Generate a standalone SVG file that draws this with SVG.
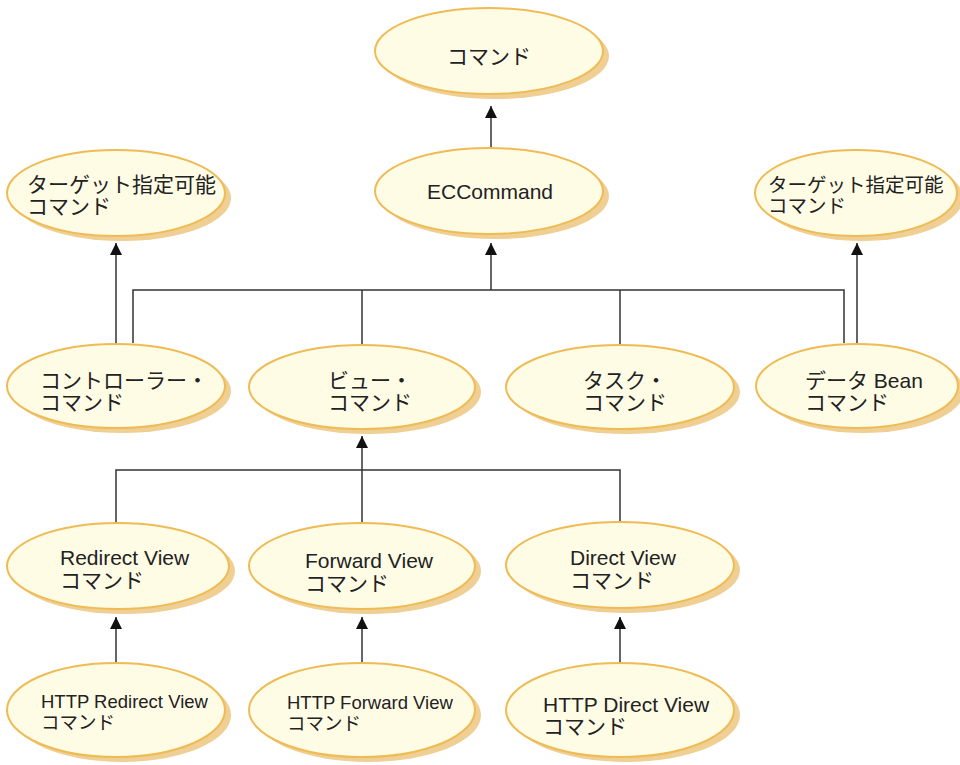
<svg xmlns="http://www.w3.org/2000/svg" width="960" height="765" viewBox="0 0 960 765">
<defs>
<style>
.sh{fill:#efcf94;stroke:none}
.el{fill:#fffce6;stroke:#eebb55;stroke-width:2}
.t{font-family:"Liberation Sans","Noto Sans CJK JP",sans-serif;font-size:21px;fill:#222}
.s{font-size:18.5px}
.c{fill:none;stroke:#333;stroke-width:1.5}
</style>
<marker id="ah" viewBox="0 0 12 12" refX="12" refY="6" markerWidth="12" markerHeight="12" markerUnits="userSpaceOnUse" orient="auto"><path d="M0,0 L12,6 L0,12 z" fill="#111"/></marker>
</defs>
<rect width="960" height="765" fill="#fff"/>
<g id="connectors">
<line class="c" x1="491" y1="148" x2="491" y2="106" marker-end="url(#ah)"/>
<polyline class="c" points="133,343 133,290 844,290 844,343"/>
<line class="c" x1="491" y1="290" x2="491" y2="243" marker-end="url(#ah)"/>
<line class="c" x1="362" y1="290" x2="362" y2="345"/>
<line class="c" x1="620" y1="290" x2="620" y2="345"/>
<line class="c" x1="116" y1="343" x2="116" y2="243" marker-end="url(#ah)"/>
<line class="c" x1="857" y1="343" x2="857" y2="243" marker-end="url(#ah)"/>
<polyline class="c" points="116,523 116,470 620,470 620,523"/>
<line class="c" x1="362" y1="523" x2="362" y2="470"/>
<line class="c" x1="362" y1="470" x2="362" y2="436" marker-end="url(#ah)"/>
<line class="c" x1="116" y1="663" x2="116" y2="617" marker-end="url(#ah)"/>
<line class="c" x1="362" y1="663" x2="362" y2="617" marker-end="url(#ah)"/>
<line class="c" x1="620" y1="663" x2="620" y2="617" marker-end="url(#ah)"/>
</g>
<g id="n-command"><ellipse class="sh" cx="495" cy="56" rx="114" ry="43"/><ellipse class="el" cx="489" cy="51" rx="114" ry="43"/><text class="t" x="489" y="64" text-anchor="middle">コマンド</text></g>
<g id="n-eccommand"><ellipse class="sh" cx="495" cy="196" rx="114" ry="43"/><ellipse class="el" cx="489" cy="191" rx="114" ry="43"/><text class="t" x="490" y="199" text-anchor="middle">ECCommand</text></g>
<g id="n-target-left"><ellipse class="sh" cx="122" cy="198" rx="109" ry="43"/><ellipse class="el" cx="116" cy="193" rx="109" ry="43"/><text class="t" x="27" y="192">ターゲット指定可能</text><text class="t" x="27" y="214">コマンド</text></g>
<g id="n-target-right"><ellipse class="sh" cx="862" cy="198" rx="101" ry="43"/><ellipse class="el" cx="856" cy="193" rx="101" ry="43"/><text class="t" x="768" y="192" style="font-size:19.5px">ターゲット指定可能</text><text class="t" x="768" y="213" style="font-size:19.5px">コマンド</text></g>
<g id="n-controller"><ellipse class="sh" cx="122" cy="391" rx="109" ry="42"/><ellipse class="el" cx="116" cy="386" rx="109" ry="42"/><text class="t" x="40" y="388">コントローラー・</text><text class="t" x="40" y="410">コマンド</text></g>
<g id="n-view"><ellipse class="sh" cx="368" cy="392" rx="113" ry="42"/><ellipse class="el" cx="362" cy="387" rx="113" ry="42"/><text class="t" x="328" y="388">ビュー・</text><text class="t" x="328" y="410">コマンド</text></g>
<g id="n-task"><ellipse class="sh" cx="626" cy="392" rx="114" ry="42"/><ellipse class="el" cx="620" cy="387" rx="114" ry="42"/><text class="t" x="583" y="388">タスク・</text><text class="t" x="583" y="410">コマンド</text></g>
<g id="n-databean"><ellipse class="sh" cx="863" cy="391" rx="101" ry="42"/><ellipse class="el" cx="857" cy="386" rx="101" ry="42"/><text class="t" x="805" y="388">データ Bean</text><text class="t" x="805" y="410">コマンド</text></g>
<g id="n-redirect"><ellipse class="sh" cx="124" cy="571" rx="111" ry="43"/><ellipse class="el" cx="118" cy="566" rx="111" ry="43"/><text class="t" x="60" y="565">Redirect View</text><text class="t" x="60" y="588">コマンド</text></g>
<g id="n-forward"><ellipse class="sh" cx="368" cy="571" rx="113" ry="43"/><ellipse class="el" cx="362" cy="566" rx="113" ry="43"/><text class="t" x="305" y="568">Forward View</text><text class="t" x="305" y="591">コマンド</text></g>
<g id="n-direct"><ellipse class="sh" cx="626" cy="570" rx="114" ry="43"/><ellipse class="el" cx="620" cy="565" rx="114" ry="43"/><text class="t" x="570" y="565">Direct View</text><text class="t" x="570" y="588">コマンド</text></g>
<g id="n-http-redirect"><ellipse class="sh" cx="122" cy="715" rx="109" ry="47"/><ellipse class="el" cx="116" cy="710" rx="109" ry="47"/><text class="t s" x="41" y="708">HTTP Redirect View</text><text class="t s" x="41" y="729">コマンド</text></g>
<g id="n-http-forward"><ellipse class="sh" cx="368" cy="715" rx="113" ry="47"/><ellipse class="el" cx="362" cy="710" rx="113" ry="47"/><text class="t s" x="287" y="709">HTTP Forward View</text><text class="t s" x="287" y="730">コマンド</text></g>
<g id="n-http-direct"><ellipse class="sh" cx="626" cy="715" rx="114" ry="47"/><ellipse class="el" cx="620" cy="710" rx="114" ry="47"/><text class="t" x="543" y="712">HTTP Direct View</text><text class="t" x="543" y="734">コマンド</text></g>
</svg>
